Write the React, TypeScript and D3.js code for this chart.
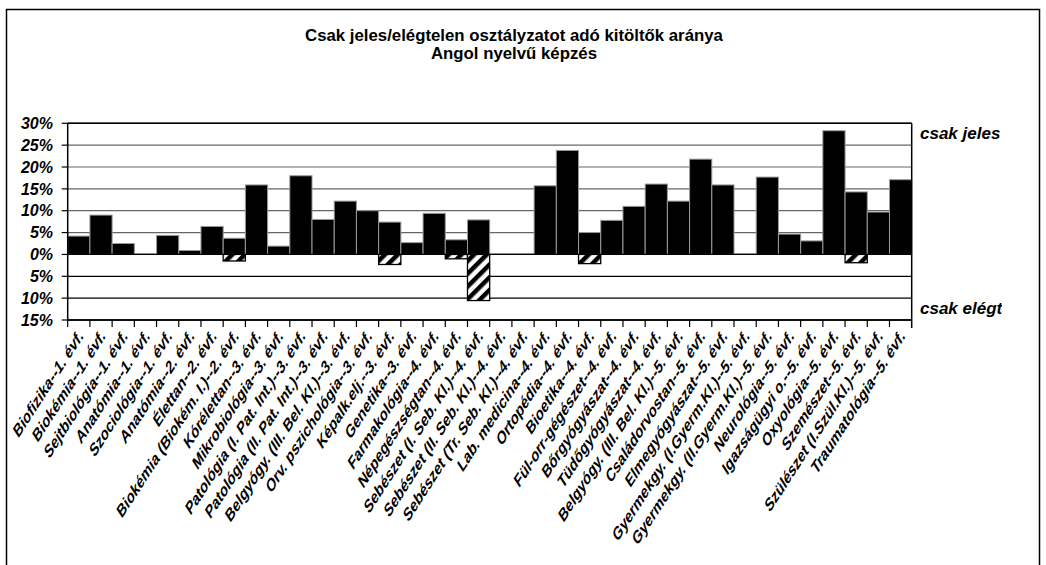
import React from "react";
import * as d3 from "d3";

const categories: string[] = [
  "Biofizika--1. évf.",
  "Biokémia--1. évf.",
  "Sejtbiológia--1. évf.",
  "Anatómia--1. évf.",
  "Szociológia--1. évf.",
  "Anatómia--2. évf.",
  "Élettan--2. évf.",
  "Biokémia (Biokém. I.)--2. évf.",
  "Kórélettan--3. évf.",
  "Mikrobiológia--3. évf.",
  "Patológia (I. Pat. Int.)--3. évf.",
  "Patológia (II. Pat. Int.)--3. évf.",
  "Belgyógy. (III. Bel. Kl.)--3. évf.",
  "Orv. pszichológia--3. évf.",
  "Képalk.elj.--3. évf.",
  "Genetika--3. évf.",
  "Farmakológia--4. évf.",
  "Népegészségtan--4. évf.",
  "Sebészet (I. Seb. Kl.)--4. évf.",
  "Sebészet (II. Seb. Kl.)--4. évf.",
  "Sebészet (Tr. Seb. Kl.)--4. évf.",
  "Lab. medicina--4. évf.",
  "Ortopédia--4. évf.",
  "Bioetika--4. évf.",
  "Fül-orr-gégészet--4. évf.",
  "Bőrgyógyászat--4. évf.",
  "Tüdőgyógyászat--4. évf.",
  "Belgyógy. (III. Bel. Kl.)--5. évf.",
  "Családorvostan--5. évf.",
  "Elmegyógyászat--5. évf.",
  "Gyermekgy. (I.Gyerm.Kl.)--5. évf.",
  "Gyermekgy. (II.Gyerm.Kl.)--5. évf.",
  "Neurológia--5. évf.",
  "Igazságügyi o.--5. évf.",
  "Oxyológia--5. évf.",
  "Szemészet--5. évf.",
  "Szülészet (I.Szül.Kl.)--5. évf.",
  "Traumatológia--5. évf.",
];

// share of respondents giving only "jeles" (excellent), percent
const csakJeles: number[] = [
  4.2, 9.0, 2.5, 0, 4.35, 0.9, 6.4, 3.7, 15.9, 1.9, 18.0, 8.0, 12.2, 10.0, 7.4, 2.7,
  9.4, 3.35, 7.9, 0, 0, 15.7, 23.8, 5.0, 7.8, 11.0, 16.1, 12.2, 21.8, 15.9, 0, 17.7,
  4.65, 3.1, 28.3, 14.3, 9.7, 17.1,
];

// share of respondents giving only "elégtelen" (fail), percent (drawn downwards)
const csakElegtelen: number[] = [
  0, 0, 0, 0, 0, 0, 0, 1.5, 0, 0, 0, 0, 0, 0, 2.3, 0,
  0, 1.0, 10.55, 0, 0, 0, 0, 2.1, 0, 0, 0, 0, 0, 0, 0, 0,
  0, 0, 0, 1.9, 0, 0,
];

const yTicks: number[] = [30, 25, 20, 15, 10, 5, 0, -5, -10, -15];

const titleLines: string[] = [
  "Csak jeles/elégtelen osztályzatot adó kitöltők aránya",
  "Angol nyelvű képzés",
];

const FONT = "'Liberation Sans', Arial, Helvetica, sans-serif";

export default function App() {
  const W = 1046;
  const H = 565;
  const left = 67.7;
  const right = 911.7;
  const top = 123.3;
  const bottom = 320;

  const x = d3
    .scaleBand<string>()
    .domain(categories)
    .range([left, right])
    .paddingInner(0)
    .paddingOuter(0);
  const y = d3.scaleLinear().domain([-15, 30]).range([bottom, top]);

  const bw = x.bandwidth();
  const y0 = y(0);

  return (
    <svg
      width={W}
      height={H}
      style={{ position: "absolute", left: 0, top: 0, background: "#fff" }}
      fontFamily={FONT}
    >
      <defs>
        <pattern
          id="stripes"
          patternUnits="userSpaceOnUse"
          width={9}
          height={9}
          patternTransform="rotate(45)"
        >
          <rect width={9} height={9} fill="#fff" />
          <rect width={4.5} height={9} fill="#000" />
        </pattern>
        <clipPath id="legendClip">
          <rect x={900} y={0} width={102} height={H} />
        </clipPath>
      </defs>

      <rect x={6.5} y={9.5} width={1033} height={H + 20} fill="#fff" stroke="#000" strokeWidth={1.5} />

      {titleLines.map((t, i) => (
        <text
          key={t}
          x={514}
          y={41 + i * 17.5}
          textAnchor="middle"
          fontSize={16.8}
          fontWeight="bold"
          fill="#000"
        >
          {t}
        </text>
      ))}

      {/* gridlines */}
      {yTicks.map((t) => (
        <line
          key={"g" + t}
          x1={left}
          x2={right}
          y1={y(t)}
          y2={y(t)}
          stroke={t <= 0 ? "#000" : "#666"}
          strokeWidth={t === 30 || t === -15 ? 1.5 : 1.2}
        />
      ))}

      {/* positive bars */}
      {categories.map((c, i) =>
        csakJeles[i] > 0 ? (
          <rect
            key={"p" + c + i}
            x={x(c)!}
            y={y(csakJeles[i])}
            width={bw}
            height={y0 - y(csakJeles[i])}
            fill="#000"
            stroke="#9a9a9a"
            strokeWidth={1}
          />
        ) : null
      )}

      {/* negative bars */}
      {categories.map((c, i) =>
        csakElegtelen[i] > 0 ? (
          <rect
            key={"n" + c + i}
            x={x(c)!}
            y={y0}
            width={bw}
            height={y(-csakElegtelen[i]) - y0}
            fill="url(#stripes)"
            stroke="#000"
            strokeWidth={1.3}
          />
        ) : null
      )}

      {/* zero line on top */}
      <line x1={left} x2={right} y1={y0} y2={y0} stroke="#000" strokeWidth={1.2} />

      {/* axes frame */}
      <line x1={left} x2={left} y1={top} y2={bottom} stroke="#000" strokeWidth={1.5} />
      <line x1={right} x2={right} y1={top} y2={bottom + 8} stroke="#000" strokeWidth={1.5} />
      <line x1={left} x2={right} y1={top} y2={top} stroke="#000" strokeWidth={1.5} />
      <line x1={left} x2={right} y1={bottom} y2={bottom} stroke="#000" strokeWidth={1.5} />

      {/* y ticks & labels */}
      {yTicks.map((t) => (
        <g key={"yt" + t}>
          <line x1={left - 6} x2={left} y1={y(t)} y2={y(t)} stroke="#000" strokeWidth={1.2} />
          <text
            x={53}
            y={y(t)}
            dy="0.36em"
            textAnchor="end"
            fontSize={16}
            fontWeight="bold"
            fontStyle="italic"
            fill="#000"
          >
            {Math.abs(t) + "%"}
          </text>
        </g>
      ))}

      {/* x ticks */}
      {categories.map((c) => (
        <line
          key={"xt" + c}
          x1={x(c)!}
          x2={x(c)!}
          y1={bottom}
          y2={bottom + 7}
          stroke="#000"
          strokeWidth={1.2}
        />
      ))}

      {/* x labels */}
      {categories.map((c) => {
        const cx = x(c)! + bw / 2 + 5;
        const cy = 337;
        return (
          <text
            key={"xl" + c}
            transform={`translate(${cx},${cy}) scale(1,1.55) rotate(-45)`}
            textAnchor="end"
            fontSize={12.2}
            fontWeight="bold"
            fill="#000"
          >
            {c}
          </text>
        );
      })}

      {/* right side labels */}
      <text x={920} y={139} fontSize={17} fontWeight="bold" fontStyle="italic" fill="#000">
        csak jeles
      </text>
      <text
        x={920}
        y={314}
        fontSize={17}
        fontWeight="bold"
        fontStyle="italic"
        fill="#000"
        clipPath="url(#legendClip)"
      >
        csak elégtelen
      </text>
    </svg>
  );
}
